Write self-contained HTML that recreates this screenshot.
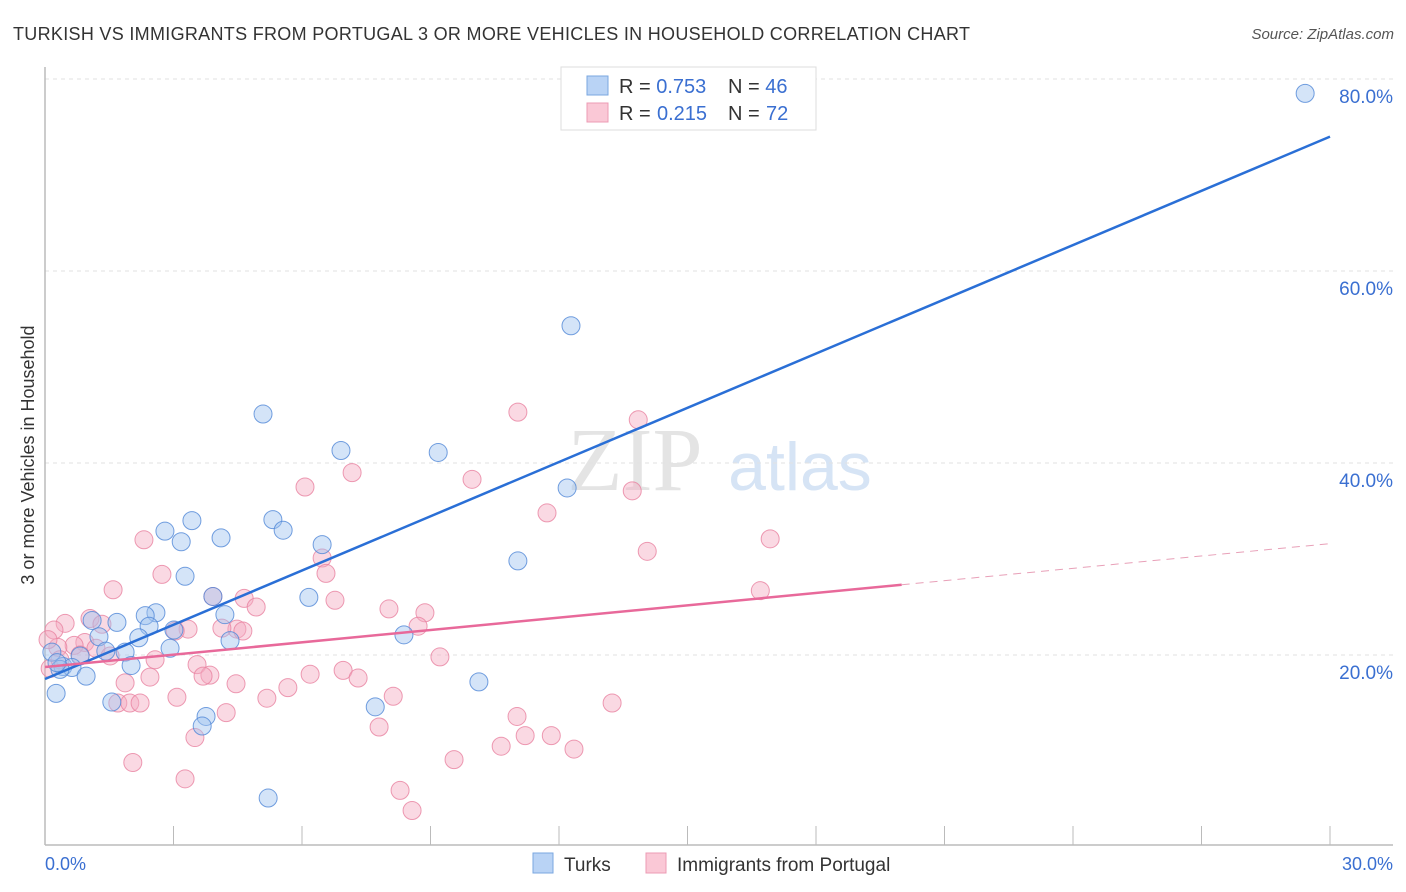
<!DOCTYPE html>
<html><head><meta charset="utf-8"><style>
body{margin:0;background:#fff;font-family:"Liberation Sans",sans-serif}
svg{display:block}
</style></head><body>
<svg id="chart" width="1406" height="892" viewBox="0 0 1406 892">
<text x="13" y="40" font-size="18" fill="#333" textLength="957">TURKISH VS IMMIGRANTS FROM PORTUGAL 3 OR MORE VEHICLES IN HOUSEHOLD CORRELATION CHART</text>
<text x="1394" y="39" font-size="15" font-style="italic" fill="#555" text-anchor="end">Source: ZipAtlas.com</text>
<text x="635" y="490" font-size="90" font-family="Liberation Serif,serif" fill="#e4e4e4" text-anchor="middle">ZIP</text>
<text x="800" y="490" font-size="68" fill="#d6e4f5" text-anchor="middle">atlas</text>
<g id="grid"></g>
<g id="axes"></g>
<g id="marks"></g>
<text transform="translate(34,455) rotate(-90)" font-size="18" fill="#333" text-anchor="middle">3 or more Vehicles in Household</text>
<g>
<rect x="561" y="67" width="255" height="63" fill="#fff" stroke="#ddd"/>
<rect x="587" y="76" width="21" height="19" fill="#b9d3f5" stroke="#7aa7e0"/>
<rect x="587" y="103" width="21" height="19" fill="#fac8d6" stroke="#ec9bb4"/>
<text x="619" y="93" font-size="20" fill="#333">R = <tspan fill="#3a6fd1">0.753</tspan></text>
<text x="728" y="93" font-size="20" fill="#333">N = <tspan fill="#3a6fd1">46</tspan></text>
<text x="619" y="120" font-size="20" fill="#333">R = <tspan x="657" fill="#3a6fd1">0.215</tspan></text>
<text x="728" y="120" font-size="20" fill="#333">N = <tspan x="766" fill="#3a6fd1">72</tspan></text>
</g>
<g>
<rect x="533" y="853" width="20" height="20" fill="#b9d3f5" stroke="#7aa7e0"/>
<text x="564" y="871" font-size="19" fill="#333">Turks</text>
<rect x="646" y="853" width="20" height="20" fill="#fac8d6" stroke="#ec9bb4"/>
<text x="677" y="871" font-size="19" fill="#333">Immigrants from Portugal</text>
</g>
</svg>
<script>
const turksX=[29.42,12.28,5.09,6.91,9.18,12.19,11.04,3.43,5.32,5.56,2.80,3.18,4.11,6.47,3.27,3.92,6.16,2.59,2.34,4.20,1.68,1.10,2.43,3.01,1.26,2.19,2.92,4.32,8.38,1.87,1.42,0.82,0.16,2.01,0.42,0.63,0.96,0.26,1.56,3.76,3.67,7.71,10.13,5.21,0.35,0.28];
const turksY=[78.5,54.3,45.1,41.3,41.1,37.4,29.8,34.0,34.1,33.0,32.9,31.8,32.2,31.5,28.2,26.1,26.0,24.4,24.1,24.2,23.4,23.6,23.0,22.6,21.9,21.8,20.7,21.5,22.1,20.3,20.4,19.9,20.3,18.9,18.8,18.7,17.8,16.0,15.1,13.6,12.6,14.6,17.2,5.1,18.5,19.2];
const portX=[11.04,13.85,7.17,9.97,6.07,13.71,11.72,14.06,16.93,2.31,6.47,2.73,6.56,1.59,16.70,3.92,4.65,6.77,4.93,8.03,8.87,1.05,0.47,1.33,0.21,3.34,4.48,3.04,8.71,4.13,4.62,0.93,0.68,0.30,1.19,1.52,0.82,2.57,9.22,3.55,0.12,6.19,6.96,3.85,3.69,7.31,2.45,1.87,4.46,5.67,5.18,3.08,8.13,1.70,1.98,2.22,13.24,4.23,11.02,7.80,3.50,11.21,11.82,10.65,12.35,2.05,9.55,3.27,8.29,8.57,0.07,0.35];
const portY=[45.3,44.5,39.0,38.3,37.5,37.1,34.8,30.8,32.1,32.0,30.1,28.4,28.5,26.8,26.7,26.1,25.9,25.7,25.0,24.8,24.4,23.8,23.3,23.2,22.6,22.7,22.7,22.5,23.0,22.8,22.5,21.3,21.0,20.8,20.7,19.9,20.0,19.5,19.8,19.0,18.6,18.0,18.4,17.9,17.8,17.6,17.7,17.1,17.0,16.6,15.5,15.6,15.7,15.0,15.0,15.0,15.0,14.0,13.6,12.5,11.4,11.6,11.6,10.5,10.2,8.8,9.1,7.1,5.9,3.8,21.6,19.5];
const turksTrend=[17.5,74.0];
const portTrend=[18.75,31.6];
const portSolidEnd=20.0;
const yTicks=[20,40,60,80];
const xTickLabels=["0.0%","30.0%"];
const NS="http://www.w3.org/2000/svg";
const xs=v=>45+v/30*1285;
const ys=v=>847-v/20*192;
function mk(tag,attrs,parent){const e=document.createElementNS(NS,tag);for(const k in attrs)e.setAttribute(k,attrs[k]);document.getElementById(parent).appendChild(e);return e;}
yTicks.forEach(t=>{
 const l=mk('line',{x1:45,x2:1393,y1:ys(t),y2:ys(t),stroke:'#e2e2e2','stroke-dasharray':'4,4'},'grid');
 
 
 const tx=mk('text',{x:1393,y:ys(t)+24,'font-size':19,fill:'#3a6fd1','text-anchor':'end'},'axes');
 tx.textContent=t.toFixed(1)+'%';
 
 
});
const ax=mk('line',{x1:45,x2:1393,y1:845,y2:845,stroke:'#bbb','stroke-width':1.5},'axes');


const ay=mk('line',{x1:45,x2:45,y1:67,y2:845,stroke:'#bbb','stroke-width':1.5},'axes');


for(let i=1;i<=10;i++){
 const t=mk('line',{x1:xs(i*3),x2:xs(i*3),y1:826,y2:845,stroke:'#bbb'},'axes');
 
 
}
[[0,'start',45],[30,'end',1393]].forEach((d,i)=>{
 const tx=mk('text',{x:d[2],y:870,'font-size':18,fill:'#3a6fd1','text-anchor':d[1]},'axes');
 tx.textContent=xTickLabels[i];
 
 
});
portX.forEach((x,i)=>{
 const c=mk('circle',{cx:xs(x),cy:ys(portY[i]),r:9,fill:'rgba(245,170,192,0.45)',stroke:'rgba(232,130,160,0.8)'},'marks');
 
 
});
turksX.forEach((x,i)=>{
 const c=mk('circle',{cx:xs(x),cy:ys(turksY[i]),r:9,fill:'rgba(160,195,240,0.45)',stroke:'rgba(80,135,215,0.8)'},'marks');
 
 
});
const bl=mk('line',{x1:xs(0),y1:ys(turksTrend[0]),x2:xs(30),y2:ys(turksTrend[1]),stroke:'#2a6fd6','stroke-width':2.5},'marks');


const pv=x=>portTrend[0]+(portTrend[1]-portTrend[0])*x/30;
const pl=mk('line',{x1:xs(0),y1:ys(pv(0)),x2:xs(portSolidEnd),y2:ys(pv(portSolidEnd)),stroke:'#e8699a','stroke-width':2.5},'marks');


const pd=mk('line',{x1:xs(portSolidEnd),y1:ys(pv(portSolidEnd)),x2:xs(30),y2:ys(pv(30)),stroke:'#e8a0b8','stroke-width':1,'stroke-dasharray':'8,6'},'marks');


</script>
</body></html>
